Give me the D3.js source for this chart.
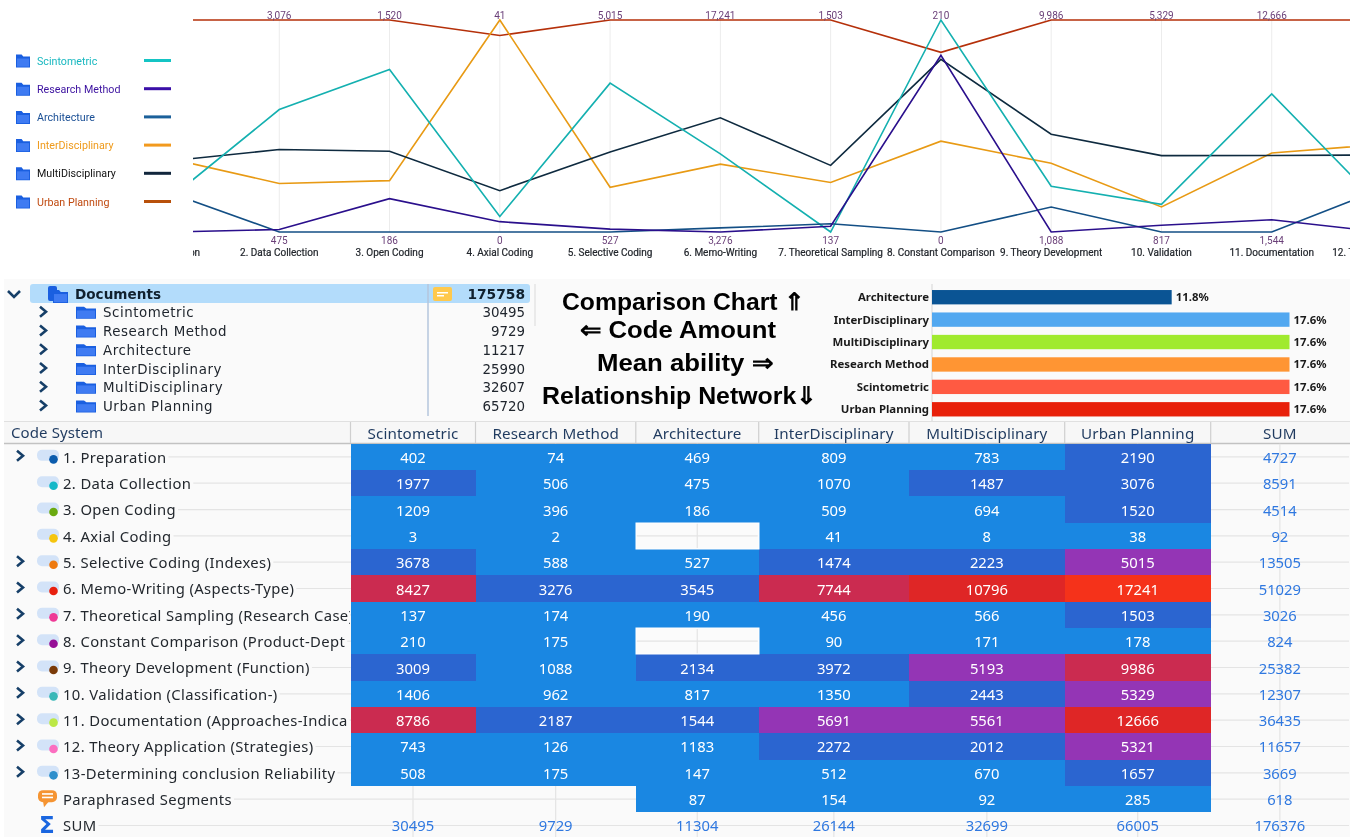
<!DOCTYPE html>
<html><head><meta charset="utf-8">
<script src="https://cdnjs.cloudflare.com/ajax/libs/d3/7.8.5/d3.min.js"></script>
<style>
html,body{margin:0;padding:0;background:#fff;overflow:hidden}
svg{display:block;filter:blur(0.35px);font-family:"Noto Sans",sans-serif}
</style></head><body><svg id="c" width="1358" height="837"></svg>
<script>
// ---- data ----
const seriesNames = ["Scintometric","Research Method","Architecture","InterDisciplinary","MultiDisciplinary","Urban Planning"];
const scintometric = [402,1977,1209,3,3678,8427,137,210,3009,1406,8786,743,508,null];
const researchMethod = [74,506,396,2,588,3276,174,175,1088,962,2187,126,175,null];
const architecture = [469,475,186,null,527,3545,190,null,2134,817,1544,1183,147,87];
const interDisciplinary = [809,1070,509,41,1474,7744,456,90,3972,1350,5691,2272,512,154];
const multiDisciplinary = [783,1487,694,8,2223,10796,566,171,5193,2443,5561,2012,670,92];
const urbanPlanning = [2190,3076,1520,38,5015,17241,1503,178,9986,5329,12666,5321,1657,285];
const matrixSeries = [scintometric,researchMethod,architecture,interDisciplinary,multiDisciplinary,urbanPlanning];
const rowSums = [4727,8591,4514,92,13505,51029,3026,824,25382,12307,36435,11657,3669,618];
const colSums = [30495,9729,11304,26144,32699,66005];
const grandSum = 176376;
const rowLabels = ["1. Preparation","2. Data Collection","3. Open Coding","4. Axial Coding","5. Selective Coding (Indexes)","6. Memo-Writing (Aspects-Type)","7. Theoretical Sampling (Research Case)","8. Constant Comparison (Product-Dept","9. Theory Development (Function)","10. Validation (Classification-)","11. Documentation (Approaches-Indica","12. Theory Application (Strategies)","13-Determining conclusion Reliability","Paraphrased Segments"];
const axisLabels = ["1. Preparation","2. Data Collection","3. Open Coding","4. Axial Coding","5. Selective Coding","6. Memo-Writing","7. Theoretical Sampling","8. Constant Comparison","9. Theory Development","10. Validation","11. Documentation","12. Theory Application"];
const treeRoot = ["Documents",175758];
const treeValues = [30495,9729,11217,25990,32607,65720];
const barNames = ["Architecture","InterDisciplinary","MultiDisciplinary","Research Method","Scintometric","Urban Planning"];
const barPercents = [11.8,17.6,17.6,17.6,17.6,17.6];
const noteLines = ["Comparison Chart ⇑","⇐ Code Amount","Mean ability ⇒","Relationship Network⇓"];
const hasChildren = [1,0,0,0,1,1,1,1,1,1,1,1,1];
// ---- styles ----
const lineColors = ["#14b0b0","#2a0f8c","#134f85","#e89a14","#0e2a3f","#b5300a"];
const swatchColors = ["#14c4c4","#3a0fa8","#1b609a","#f29a1e","#11263c","#b8500a"];
const legendText = ["#18b8c0","#3c12a0","#1a4f95","#ef9a1a","#111111","#c04a10"];
const barColors = ["#0a5494","#52a8f0","#a0ea2e","#ff9533","#ff5a42","#e8200a"];
const dotColors = ["#0b5cad","#14b8c8","#6aaa10","#f5c50f","#ee7a10","#e8200f","#ee3a96","#960f96","#7a3a08","#3ab8b8","#bce846","#fb6ec0","#2e8fcc"];
const heat = d3.scaleThreshold().domain([1450,5000,7000,10500,15000]).range(["#1a87e2","#2b65d0","#9435b5","#cb2b50","#df2626","#f5321a"]);

const svg = d3.select("#c");
svg.append("rect").attr("width",1358).attr("height",837).attr("fill","#fff");
const defs = svg.append("defs");
defs.append("clipPath").attr("id","lc").append("rect").attr("x",193).attr("y",0).attr("width",1157).attr("height",262);
defs.append("clipPath").attr("id","rc").append("rect").attr("x",0).attr("y",440).attr("width",350).attr("height",397);

function folder(g,x,y,w,h,col){
  const p=d3.path();
  p.moveTo(x,y+1);p.lineTo(x+w*0.4,y+1);p.lineTo(x+w*0.52,y+h*0.22);p.lineTo(x+w,y+h*0.22);p.lineTo(x+w,y+h);p.lineTo(x,y+h);p.closePath();
  g.append("path").attr("d",p.toString()).attr("fill",col||"#1a5fe0");
  g.append("rect").attr("x",x+1).attr("y",y+h*0.36).attr("width",w-2).attr("height",h*0.58).attr("fill","#3f7bf2");
}
function chevron(g,x,y,down){
  const pts = down ? [[x-6,y-3],[x,y+3],[x+6,y-3]] : [[x-3,y-5],[x+3,y],[x-3,y+5]];
  g.append("path").attr("d",d3.line()(pts)).attr("fill","none").attr("stroke","#163f68").attr("stroke-width",2.6);
}

// ---- parallel line chart ----
const topG = svg.append("g");
const x = d3.scalePoint().domain(axisLabels).range([169,1382]);
const yPx = [232,20];
const colVals = axisLabels.map((_,i)=>matrixSeries.map(s=>s[i]||0));
const yScales = colVals.map(v=>d3.scaleLinear().domain(d3.extent(v)).range(yPx));
const visibleCols = colVals.map((v,i)=>({v,i})).filter(d=>x(axisLabels[d.i])>193 && x(axisLabels[d.i])<1350);
const lc = topG.append("g").attr("clip-path","url(#lc)");
lc.selectAll("line.g").data(axisLabels).join("line").attr("class","g")
  .attr("x1",d=>x(d)).attr("x2",d=>x(d)).attr("y1",20).attr("y2",232).attr("stroke","#ececec");
const lineGen = d3.line().x((d,i)=>x(axisLabels[i])).y((d,i)=>yScales[i](d||0));
[5,3,4,0,2,1].forEach(k=>{
  lc.append("path").attr("d",lineGen(matrixSeries[k].slice(0,12))).attr("fill","none").attr("stroke",lineColors[k]).attr("stroke-width",1.6);
});
const fmt = d3.format(",");
topG.selectAll("text.mx").data(visibleCols).join("text").attr("class","mx").attr("x",d=>x(axisLabels[d.i])).attr("y",18.5)
  .attr("text-anchor","middle").attr("font-family","Roboto").attr("font-size",10).attr("fill","#6a3f78").text(d=>fmt(d3.max(d.v)));
topG.selectAll("text.mn").data(visibleCols).join("text").attr("class","mn").attr("x",d=>x(axisLabels[d.i])).attr("y",244)
  .attr("text-anchor","middle").attr("font-family","Roboto").attr("font-size",10).attr("fill","#6a3f78").text(d=>fmt(d3.min(d.v)));
lc.selectAll("text.cat").data(axisLabels).join("text").attr("class","cat").attr("x",d=>x(d)).attr("y",256)
  .attr("text-anchor","middle").attr("font-family","Roboto").attr("font-size",10).attr("fill","#22262c").attr("stroke","#22262c").attr("stroke-width",0.2).text(d=>d);
// legend
const ly = d3.scalePoint().domain(seriesNames).range([60.5,201.5]);
seriesNames.forEach((n,i)=>{
  const g=topG.append("g");
  folder(g,16,ly(n)-7,14,14);
  g.append("text").attr("x",37).attr("y",ly(n)+4).attr("font-family","Roboto").attr("font-size",10.7).attr("fill",legendText[i]).text(n);
  g.append("line").attr("x1",144).attr("x2",171).attr("y1",ly(n)).attr("y2",ly(n)).attr("stroke",swatchColors[i]).attr("stroke-width",3);
});

// ---- panel background ----
svg.append("rect").attr("x",4).attr("y",279).attr("width",1346).attr("height",558).attr("fill","#fafafa");

// ---- tree ----
const tree = svg.append("g");
tree.append("rect").attr("x",30).attr("y",284).attr("width",500).attr("height",19).attr("rx",3).attr("fill","#b3dcfb");
chevron(tree,14,294,true);
const treeY = d3.scaleLinear().domain([0,6]).range([294,406.5]);
tree.append("rect").attr("x",48).attr("y",286).attr("width",9).attr("height",15).attr("rx",2).attr("fill","#1a5fe0");
folder(tree,53,289,15,14,"#1a5fe0");
tree.append("text").attr("x",75).attr("y",treeY(0)+5).attr("font-family","DejaVu Sans").attr("font-size",13.6).attr("font-weight","bold").attr("fill","#10202e").text(treeRoot[0]);
tree.append("text").attr("x",525).attr("y",treeY(0)+5).attr("text-anchor","end").attr("font-family","DejaVu Sans").attr("font-size",13.8).attr("font-weight","bold").attr("fill","#10202e").text(treeRoot[1]);
tree.append("rect").attr("x",433).attr("y",287).attr("width",19).attr("height",14).attr("rx",2).attr("fill","#ffc94d");
tree.append("rect").attr("x",437).attr("y",292).attr("width",11).attr("height",1.5).attr("fill","#fff");
tree.append("rect").attr("x",437).attr("y",295).attr("width",7).attr("height",1.5).attr("fill","#fff");
tree.append("line").attr("x1",428).attr("x2",428).attr("y1",284).attr("y2",416).attr("stroke","#b4c6dc").attr("stroke-width",1.5);
tree.append("line").attr("x1",535).attr("x2",535).attr("y1",284).attr("y2",326).attr("stroke","#e4e4e4").attr("stroke-width",1.5);
seriesNames.forEach((n,i)=>{
  const yy=treeY(i+1);
  chevron(tree,43,yy-1,false);
  folder(tree,76,yy-7,20,13);
  tree.append("text").attr("x",103).attr("y",yy+4.5).attr("font-family","DejaVu Sans").attr("font-size",13.4).attr("letter-spacing",0.55).attr("fill","#20262e").text(n);
  tree.append("text").attr("x",525).attr("y",yy+4.5).attr("text-anchor","end").attr("font-family","DejaVu Sans").attr("font-size",13.4).attr("fill","#20262e").text(treeValues[i]);
});

// ---- note text ----
const note = svg.append("g");
const noteX=[562,580,597,542], noteY=[310,338,371,404], noteW=[243,196,176,275];
noteLines.forEach((t,i)=>note.append("text").attr("x",noteX[i]).attr("y",noteY[i])
  .attr("font-family","Liberation Sans").attr("font-weight","bold").attr("font-size",24).attr("fill","#000")
  .attr("textLength",noteW[i]).attr("lengthAdjust","spacingAndGlyphs").text(t));

// ---- bars ----
const bars = svg.append("g");
const bx = d3.scaleLinear().domain([0,17.6]).range([932,1289.5]);
const by = d3.scaleBand().domain(barNames).range([286,420.5]).paddingInner(0.36).paddingOuter(0.18);
bars.append("line").attr("x1",932).attr("x2",932).attr("y1",284).attr("y2",424).attr("stroke","#d4d4d4");
bars.selectAll("rect").data(barNames).join("rect").attr("x",bx(0)).attr("y",d=>by(d)).attr("height",by.bandwidth())
  .attr("width",(d,i)=>bx(barPercents[i])-bx(0)).attr("fill",(d,i)=>barColors[i]);
bars.selectAll("text.n").data(barNames).join("text").attr("class","n").attr("x",929).attr("y",d=>by(d)+by.bandwidth()/2+4)
  .attr("text-anchor","end").attr("font-size",11.4).attr("font-weight","bold").attr("fill","#1a1a1a").text(d=>d);
bars.selectAll("text.p").data(barPercents).join("text").attr("class","p").attr("x",d=>bx(d)+4).attr("y",(d,i)=>by(barNames[i])+by.bandwidth()/2+4)
  .attr("font-size",11.4).attr("font-weight","bold").attr("fill","#1a1a1a").text(d=>d.toFixed(1)+"%");

// ---- table ----
const T = svg.append("g");
const colEdges=[350.5,475.5,635.8,758.7,909,1064.7,1210.7,1349];
const colNames=seriesNames.concat(["SUM"]);
const rowTop=443.7, rowH=26.33;
const ry=d3.scaleLinear().domain([0,15]).range([rowTop,rowTop+15*rowH]);
const cc=i=>(colEdges[i]+colEdges[i+1])/2;
// header
T.append("rect").attr("x",4).attr("y",422).attr("width",1346).attr("height",21.5).attr("fill","#f7f7f7");
T.append("line").attr("x1",4).attr("x2",1350).attr("y1",443.5).attr("y2",443.5).attr("stroke","#c2c2c2").attr("stroke-width",1.4);
T.append("line").attr("x1",4).attr("x2",1350).attr("y1",421.5).attr("y2",421.5).attr("stroke","#e0e0e0");
colEdges.slice(0,7).forEach(e=>T.append("line").attr("x1",e).attr("x2",e).attr("y1",422).attr("y2",443).attr("stroke","#cfcfcf").attr("stroke-width",1.2));
T.append("text").attr("x",11).attr("y",438).attr("font-size",15).attr("letter-spacing",0.1).attr("fill","#1f3a5f").text("Code System");
colNames.forEach((n,i)=>T.append("text").attr("x",cc(i)).attr("y",439).attr("text-anchor","middle").attr("font-size",15.2).attr("letter-spacing",0.12).attr("fill","#1f3a5f").text(n));
// grid in the open areas
for(let r=0;r<15;r++){const yc=ry(r+0.5);
  T.append("line").attr("x1",350).attr("x2",1349).attr("y1",yc).attr("y2",yc).attr("stroke","#e4e4e4").attr("stroke-width",1.2);}
for(let c=0;c<7;c++){T.append("line").attr("x1",cc(c)).attr("x2",cc(c)).attr("y1",rowTop).attr("y2",837).attr("stroke","#e4e4e4").attr("stroke-width",1.2);}
// heat cells, snapped to whole pixels so neighbours do not show seams
const rnd=Math.round;
matrixSeries.forEach((s,c)=>s.forEach((v,r)=>{
  if(v===null) return;
  T.append("rect").attr("x",rnd(colEdges[c])).attr("y",rnd(ry(r))).attr("width",rnd(colEdges[c+1])-rnd(colEdges[c])).attr("height",rnd(ry(r+1))-rnd(ry(r))).attr("fill",heat(v));
}));
// blank cells inside the block
matrixSeries.forEach((s,c)=>s.forEach((v,r)=>{
  if(v===null && r<13){
    T.append("rect").attr("x",rnd(colEdges[c])).attr("y",rnd(ry(r))).attr("width",rnd(colEdges[c+1])-rnd(colEdges[c])).attr("height",rnd(ry(r+1))-rnd(ry(r))).attr("fill","#fbfbfb").attr("stroke","#ffffff");
    T.append("line").attr("x1",colEdges[c]+1).attr("x2",colEdges[c+1]-1).attr("y1",ry(r+0.5)).attr("y2",ry(r+0.5)).attr("stroke","#e4e4e4").attr("stroke-width",1.2);
    T.append("line").attr("x1",cc(c)).attr("x2",cc(c)).attr("y1",ry(r)+1).attr("y2",ry(r+1)-1).attr("stroke","#e4e4e4").attr("stroke-width",1.2);
  }
}));
matrixSeries.forEach((s,c)=>s.forEach((v,r)=>{
  if(v===null) return;
  T.append("text").attr("x",cc(c)).attr("y",ry(r+0.5)+6).attr("text-anchor","middle").attr("font-size",14.8).attr("fill","#fff").text(v);
}));
rowSums.forEach((v,r)=>T.append("text").attr("x",cc(6)).attr("y",ry(r+0.5)+6).attr("text-anchor","middle").attr("font-size",14.8).attr("fill","#2f78e0").text(v));
colSums.concat([grandSum]).forEach((v,c)=>T.append("text").attr("x",cc(c)).attr("y",ry(14.5)+6).attr("text-anchor","middle").attr("font-size",14.8).attr("fill","#2f78e0").text(v));
// row labels
const labs=T.append("g").attr("clip-path","url(#rc)");
rowLabels.concat(["SUM"]).forEach((t,r)=>{
  const yc=ry(r+0.5);
  const tx=labs.append("text").attr("x",63).attr("y",yc+5.8).attr("font-size",14.8).attr("letter-spacing",0.38).attr("fill","#23282e").text(t);
  const end=63+tx.node().getComputedTextLength();
  labs.insert("line","text").attr("x1",end+2).attr("x2",350).attr("y1",yc).attr("y2",yc).attr("stroke","#e4e4e4").attr("stroke-width",1.2);
  if(r<13){
    if(hasChildren[r]) chevron(T,20,yc-1,false);
    T.append("rect").attr("x",37).attr("y",yc-7).attr("width",22).attr("height",11).attr("rx",5).attr("fill","#d3e3f8");
    T.append("circle").attr("cx",53.5).attr("cy",yc+2.5).attr("r",4.3).attr("fill",dotColors[r]);
  }
});
// paraphrase bubble
const by2=ry(13.5);
T.append("rect").attr("x",38).attr("y",by2-9).attr("width",19).attr("height",12).attr("rx",5).attr("fill","#f59432");
T.append("path").attr("d",d3.line()([[43,by2+2],[49,by2+2],[44,by2+8]])).attr("fill","#f59432");
T.append("rect").attr("x",42).attr("y",by2-6).attr("width",11).attr("height",1.6).attr("fill","#fff");
T.append("rect").attr("x",42).attr("y",by2-2.5).attr("width",11).attr("height",1.6).attr("fill","#fff");
T.append("text").attr("x",39).attr("y",ry(14.5)+8).attr("font-family","DejaVu Sans").attr("font-weight","bold").attr("font-size",23).attr("fill","#1a66e0").text("Σ");
</script></body></html>
